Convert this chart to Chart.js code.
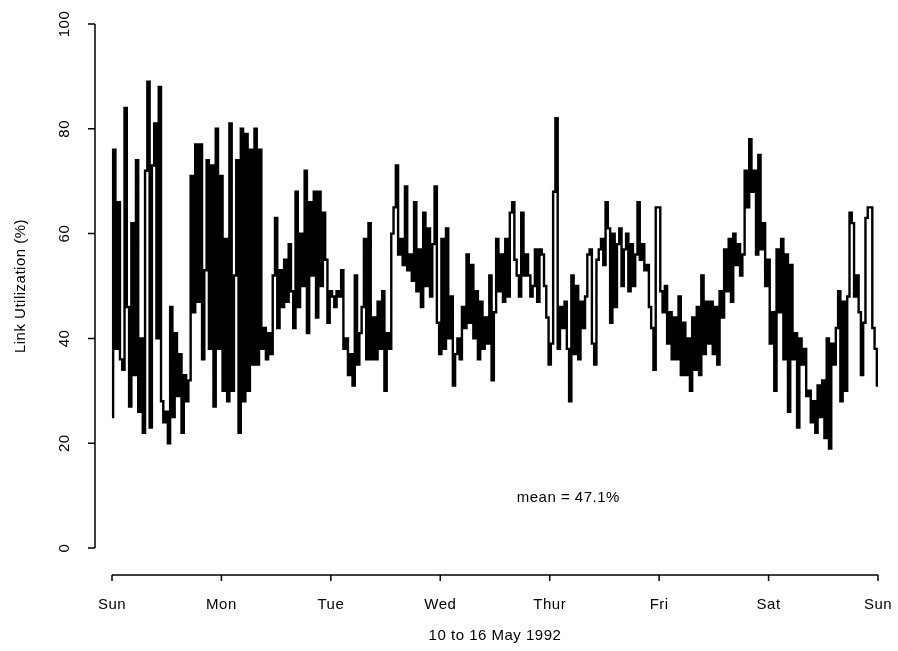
<!DOCTYPE html>
<html>
<head>
<meta charset="UTF-8">
<title>Link Utilization</title>
<script src="https://cdn.jsdelivr.net/npm/chart.js"></script>
<style>
  html, body { margin: 0; padding: 0; background: #fff; }
  #wrap { width: 898px; height: 651px; }
</style>
</head>
<body>
<div id="wrap"><canvas id="linkChart" width="898" height="651"></canvas></div>
<script>
// tick labels
const dayLabels = ['Sun', 'Mon', 'Tue', 'Wed', 'Thur', 'Fri', 'Sat', 'Sun'];
const yTicks = [0, 20, 40, 60, 80, 100];

// link utilization (%), half-hour samples, one array per day
const samplesPerDay = 48;
const sun = [25,76,38,66,36,34,84,46,27,62,33,74,26,40,22,72,89,23,73,81,40,88,28,24,26,20,46,25,41,29,37,22,33,28,32,71,45,77,47,77,36,53,74,38,73,27,80,38];
const mon = [71,30,59,28,81,30,52,74,22,80,28,79,30,76,35,80,35,76,38,42,36,41,37,52,63,42,53,46,55,47,58,49,42,68,46,60,50,72,41,66,52,68,44,68,50,64,55,43];
const tue = [49,48,46,49,48,53,38,40,33,37,31,52,35,41,46,59,36,62,36,44,36,47,38,49,30,41,38,60,65,73,56,59,54,69,53,56,51,66,49,57,46,64,50,61,48,58,69,43];
const wed = [37,59,38,61,40,48,31,37,40,36,46,42,56,43,54,40,49,36,47,38,44,39,52,32,45,59,49,56,47,59,48,64,66,55,52,48,64,52,56,52,48,50,57,47,57,56,50,44];
const thu = [35,39,68,82,38,46,42,47,38,28,52,37,50,36,47,42,48,56,57,39,35,55,57,59,54,66,61,43,60,46,58,61,50,57,60,49,58,50,56,66,55,58,53,54,46,42,34,65];
const fri = [65,49,45,50,39,45,36,44,36,48,33,43,33,40,30,44,34,46,33,52,37,47,39,47,37,46,35,49,44,57,49,59,47,60,54,58,52,56,72,65,78,68,72,56,75,57,62,50];
const sat = [55,39,45,30,57,45,59,36,56,26,54,36,41,23,40,35,38,29,30,24,28,22,31,25,32,21,40,19,39,35,42,49,28,47,30,48,64,62,48,52,45,33,43,63,65,65,42,38];
const lastValue = 31;

const meanLabel = 'mean = 47.1%';
const meanAt = { x: 4.17, y: 9.6 };
const xTitle = '10 to 16 May 1992';
const yTitle = 'Link Utilization (%)';

const allValues = [].concat(sun, mon, tue, wed, thu, fri, sat, [lastValue]);
const points = allValues.map((v, i) => ({ x: i / samplesPerDay, y: v }));

// S-Plus style detached axes
const axesPlugin = {
  id: 'splusAxes',
  afterDraw(chart) {
    const { ctx, chartArea, scales: { x, y } } = chart;
    const left = chartArea.left;
    const bottom = chartArea.bottom;
    ctx.save();
    ctx.strokeStyle = '#000';
    ctx.fillStyle = '#000';
    ctx.lineWidth = 1.5;
    ctx.beginPath();
    ctx.moveTo(left, y.getPixelForValue(0));
    ctx.lineTo(left, y.getPixelForValue(100));
    yTicks.forEach(t => {
      const py = y.getPixelForValue(t);
      ctx.moveTo(left - 7, py);
      ctx.lineTo(left, py);
    });
    ctx.moveTo(x.getPixelForValue(0), bottom);
    ctx.lineTo(x.getPixelForValue(7), bottom);
    dayLabels.forEach((d, i) => {
      const px = x.getPixelForValue(i);
      ctx.moveTo(px, bottom);
      ctx.lineTo(px, bottom + 6);
    });
    ctx.stroke();

    ctx.font = '15px Arial';
    ctx.letterSpacing = '0.5px';
    ctx.textAlign = 'center';
    ctx.textBaseline = 'middle';
    dayLabels.forEach((d, i) => {
      ctx.fillText(d, x.getPixelForValue(i), bottom + 30);
    });
    yTicks.forEach(t => {
      ctx.save();
      ctx.translate(left - 30, y.getPixelForValue(t));
      ctx.rotate(-Math.PI / 2);
      ctx.fillText(String(t), 0, 0);
      ctx.restore();
    });
    ctx.fillText(xTitle, (x.getPixelForValue(0) + x.getPixelForValue(7)) / 2, bottom + 61);
    ctx.save();
    ctx.translate(21, (y.getPixelForValue(0) + y.getPixelForValue(100)) / 2);
    ctx.rotate(-Math.PI / 2);
    ctx.fillText(yTitle, 0, 0);
    ctx.restore();
    ctx.fillText(meanLabel, x.getPixelForValue(meanAt.x), y.getPixelForValue(meanAt.y));
    ctx.restore();
  }
};

new Chart(document.getElementById('linkChart'), {
  type: 'line',
  data: {
    datasets: [{
      data: points,
      borderColor: '#000',
      borderWidth: 2.4,
      pointRadius: 0,
      stepped: 'middle',
      tension: 0
    }]
  },
  options: {
    responsive: false,
    animation: false,
    layout: { padding: { left: 95, right: 20, top: 24, bottom: 76 } },
    plugins: { legend: { display: false }, tooltip: { enabled: false } },
    scales: {
      x: { type: 'linear', min: -0.1553, max: 7, display: false },
      y: { min: -5.15, max: 100, display: false }
    }
  },
  plugins: [axesPlugin]
});
</script>
</body>
</html>
